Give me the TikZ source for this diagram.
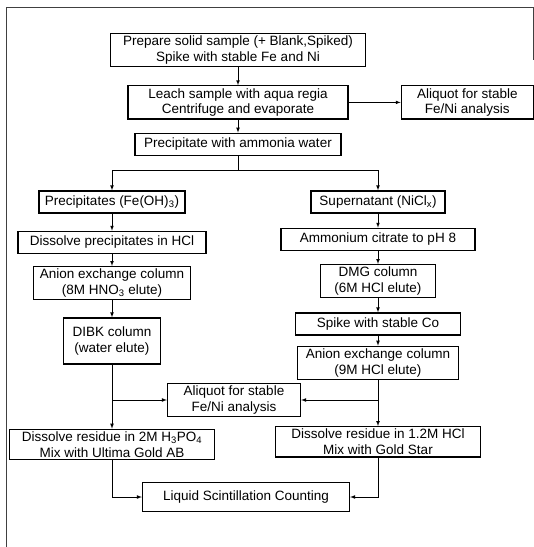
\documentclass[tikz,border=0pt]{standalone}
\usepackage{fontspec}
\setmainfont{Liberation Sans}
\usetikzlibrary{arrows,positioning}

\begin{document}
\begin{tikzpicture}[x=1pt, y=-1pt, font=\fontsize{13.5}{15.5}\selectfont,
    box/.style={rectangle, draw, line width=1.3pt, minimum height=22pt, inner sep=2.5pt, align=center},
    link/.style={line width=0.7pt, -latex},
    node distance=13pt]
  \useasboundingbox (0,0) rectangle (534,547);

  % frame of the scanned page
  \draw[line width=0.6pt, black!75] (6,547) -- (6,7) -- (533,7) -- (533,60);

  % common steps
  \node[box, minimum width=255pt] (prep) at (238,50) {Prepare solid sample (+ Blank,Spiked)\\Spike with stable Fe and Ni};
  \node[box, minimum width=220pt, below=18pt of prep] (leach) {Leach sample with aqua regia\\Centrifuge and evaporate};
  \node[box, minimum width=132pt, right=52pt of leach] (aliqA) {Aliquot for stable\\Fe/Ni analysis};
  \node[box, minimum width=206pt, below=13pt of leach] (precip) {Precipitate with ammonia water};

  % Fe branch
  \node[box, minimum width=146pt] (ppt) at (112,202) {Precipitates (Fe(OH)\textsubscript{3})};
  \node[box, minimum width=188pt, below=17pt of ppt] (dissA) {Dissolve precipitates in HCl};
  \node[box, minimum width=157pt, below=12pt of dissA] (anionA) {Anion exchange column\\(8M HNO\textsubscript{3} elute)};
  \node[box, minimum width=97pt, minimum height=46pt, below=17pt of anionA] (dibk) {DIBK column\\(water elute)};
  \node[box, minimum width=205pt, below=64pt of dibk] (resA) {Dissolve residue in 2M H\textsubscript{3}PO\textsubscript{4}\\Mix with Ultima Gold AB};

  % Ni branch
  \node[box, minimum width=134pt] (super) at (378,202) {Supernatant (NiCl\textsubscript{x})};
  \node[box, minimum width=194pt, below=14pt of super] (citr) {Ammonium citrate to pH 8};
  \node[box, minimum width=115pt, below=13pt of citr] (dmg) {DMG column\\(6M HCl elute)};
  \node[box, minimum width=165pt, below=14pt of dmg] (spike) {Spike with stable Co};
  \node[box, minimum width=161pt, below=10pt of spike] (anionB) {Anion exchange column\\(9M HCl elute)};
  \node[box, minimum width=205pt, below=46pt of anionB] (resB) {Dissolve residue in 1.2M HCl\\Mix with Gold Star};

  % shared end
  \node[box, minimum width=133pt] (aliqB) at (234,400) {Aliquot for stable\\Fe/Ni analysis};
  \node[box, minimum width=207pt, minimum height=29pt] (lsc) at (246,497) {Liquid Scintillation Counting};

  % arrows
  \draw[link] (prep) -- (leach);
  \draw[link] (leach) -- (precip);
  \draw[link] (leach) -- (aliqA);
  \draw[line width=0.7pt] (precip.south) -- ++(0,14) coordinate (split);
  \draw[link] (split) -| (ppt.north);
  \draw[link] (split) -| (super.north);

  \draw[link] (ppt) -- (dissA);
  \draw[link] (dissA) -- (anionA);
  \draw[link] (anionA) -- (dibk);
  \draw[link] (dibk) -- (resA);
  \draw[link] (dibk.south |- aliqB.west) -- (aliqB.west);

  \draw[link] (super) -- (citr);
  \draw[link] (citr) -- (dmg);
  \draw[link] (dmg) -- (spike);
  \draw[link] (spike) -- (anionB);
  \draw[link] (anionB) -- (resB);
  \draw[link] (anionB.south |- aliqB.east) -- (aliqB.east);

  \draw[link] (resA.south) |- (lsc.west);
  \draw[link] (resB.south) |- (lsc.east);
\end{tikzpicture}
\end{document}
